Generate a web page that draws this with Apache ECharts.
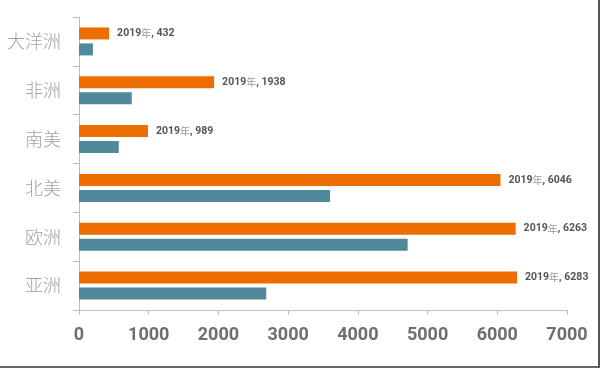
<!DOCTYPE html>
<html><head><meta charset="utf-8">
<script src="https://cdn.jsdelivr.net/npm/echarts@6/dist/echarts.min.js"></script>
<style>html,body{margin:0;padding:0;background:#fff}#c{width:600px;height:368px;box-sizing:border-box;border-right:2px solid #555;border-bottom:2px solid #666}</style>
</head><body><div id="c"></div>
<script>
const categories = ['大洋洲','非洲','南美','北美','欧洲','亚洲'];
const values2019 = [432, 1938, 989, 6046, 6263, 6283];
const valuesOther = [200, 757, 571, 3600, 4714, 2686];
const yearLabel = '2019';
const xTicks = [0, 1000, 2000, 3000, 4000, 5000, 6000, 7000];

const numFont = 'Roboto, "Liberation Sans Narrow", sans-serif';
const chart = echarts.init(document.getElementById('c'), null, {renderer:'canvas'});
chart.setOption({
  animation:false,
  grid:{left:79,right:31,top:17,bottom:56,containLabel:false},
  xAxis:{type:'value',min:xTicks[0],max:xTicks[xTicks.length-1],interval:1000,
    axisLine:{show:true,lineStyle:{color:'#bdbdbd',width:1}},
    axisTick:{show:true,length:5,lineStyle:{color:'#bdbdbd'}},
    splitLine:{show:false},
    axisLabel:{margin:16,color:'#6e6e6e',fontSize:18,fontWeight:'bold',fontFamily:numFont,
      formatter:v=>String(v)}
  },
  yAxis:{type:'category',data:categories,inverse:true,
    axisLine:{show:true,lineStyle:{color:'#bdbdbd',width:1}},
    axisTick:{show:true,length:6,lineStyle:{color:'#bdbdbd'}},
    axisLabel:{margin:18,color:'#a0a0a0',fontSize:18,fontFamily:'"Noto Sans CJK SC",sans-serif',fontWeight:300}
  },
  series:[
    {type:'bar',name:'2019',data:values2019,barWidth:12,barGap:'33%',
     itemStyle:{color:'#EE6D00'},
     label:{show:true,position:'right',distance:8,
       formatter:p=>'{a|'+yearLabel+'}{b|年}{a|, '+p.value+'}',
       rich:{a:{fontSize:10.5,fontWeight:'bold',color:'#555',fontFamily:numFont},
             b:{fontSize:10,color:'#999',fontFamily:'"Noto Sans CJK SC",sans-serif'}}}},
    {type:'bar',name:'other',data:valuesOther,barWidth:12,barGap:'33%',
     itemStyle:{color:'#52889B'}}
  ]
});
</script></body></html>
